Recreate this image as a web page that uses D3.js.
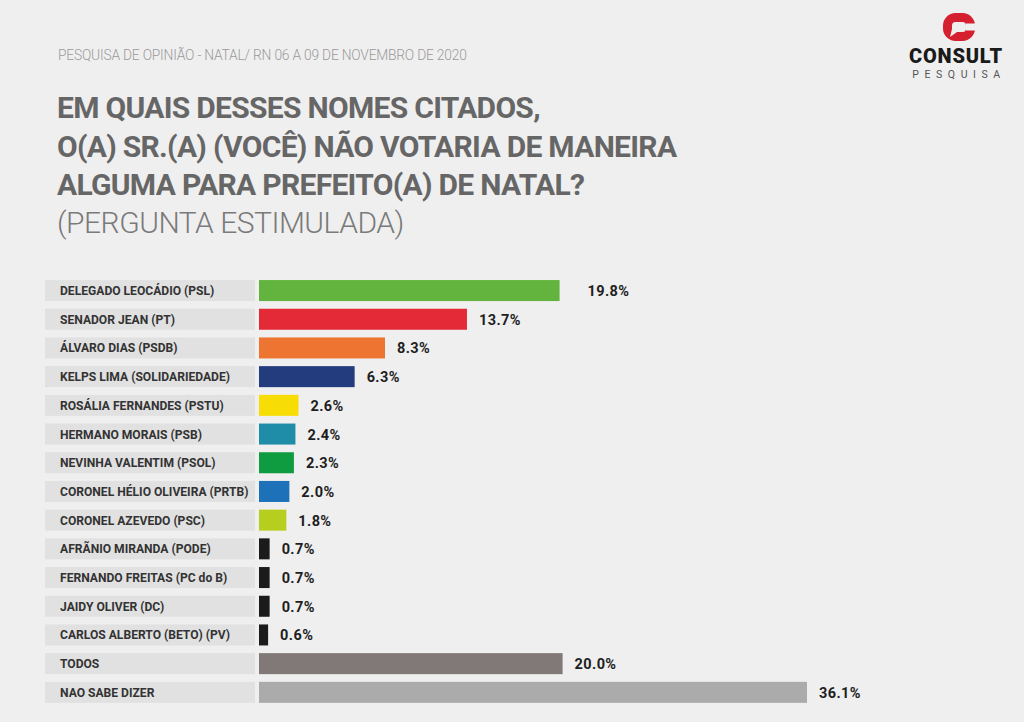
<html><head>
  <script src="https://d3js.org/d3.v7.min.js"></script>
  <style>
    body { margin: 0; background: #efefef; }
    text { font-family: Roboto, 'Noto Sans', sans-serif; }
  </style>
</head>
<body>
<script>
  // data
  const names = [
    "DELEGADO LEOCÁDIO (PSL)",
    "SENADOR JEAN (PT)",
    "ÁLVARO DIAS (PSDB)",
    "KELPS LIMA (SOLIDARIEDADE)",
    "ROSÁLIA FERNANDES (PSTU)",
    "HERMANO MORAIS (PSB)",
    "NEVINHA VALENTIM (PSOL)",
    "CORONEL HÉLIO OLIVEIRA (PRTB)",
    "CORONEL AZEVEDO (PSC)",
    "AFRÃNIO MIRANDA (PODE)",
    "FERNANDO FREITAS (PC do B)",
    "JAIDY OLIVER (DC)",
    "CARLOS ALBERTO (BETO) (PV)",
    "TODOS",
    "NAO SABE DIZER"
  ]
  const values = [19.8, 13.7, 8.3, 6.3, 2.6, 2.4, 2.3, 2.0, 1.8, 0.7, 0.7, 0.7, 0.6, 20.0, 36.1]
  const colors = ["#62b43f", "#e42a37", "#ee7531", "#233c7e", "#f7dc06", "#1f8ca8", "#0f9b3f",
                  "#1c71b8", "#b6cf1e", "#1b1b1b", "#1b1b1b", "#1b1b1b", "#1b1b1b", "#817878", "#ababab"]

  const header = "PESQUISA DE OPINIÃO - NATAL/ RN 06 A 09 DE NOVEMBRO DE 2020"
  const titleLines = ["EM QUAIS DESSES NOMES CITADOS,",
                      "O(A) SR.(A) (VOCÊ) NÃO VOTARIA DE MANEIRA",
                      "ALGUMA PARA PREFEITO(A) DE NATAL?"]
  const subtitle = "(PERGUNTA ESTIMULADA)"

  const data = names.map((n, i) => ({name: n, value: values[i], color: colors[i]}))

  const W = 1024, H = 722
  const bg = "#efefef"
  const svg = d3.select("body").append("svg").attr("width", W).attr("height", H)
  svg.append("rect").attr("width", W).attr("height", H).attr("fill", bg)

  // header + titles
  svg.append("text").attr("x", 58).attr("y", 60)
     .attr("font-size", 13.8).attr("font-weight", 300).attr("fill", "#9a9a9a")
     .attr("letter-spacing", -0.2)
     .text(header)

  svg.selectAll("text.title").data(titleLines).join("text").attr("class", "title")
     .attr("x", 57).attr("y", (d, i) => 118 + i * 38.5)
     .attr("font-size", 30).attr("font-weight", 700).attr("fill", "#666")
     .attr("letter-spacing", -0.7)
     .text(d => d)

  svg.append("text").attr("x", 57).attr("y", 233)
     .attr("font-size", 30).attr("font-weight", 300).attr("fill", "#7a7a7a")
     .attr("letter-spacing", -0.5)
     .text(subtitle)

  // logo: rounded C with a little speech-bubble notch
  const logo = svg.append("g")
  logo.append("rect").attr("x", 947.5).attr("y", 17.5).attr("width", 23).attr("height", 19).attr("rx", 8)
      .attr("fill", "none").attr("stroke", "#d4202f").attr("stroke-width", 9)
  logo.append("rect").attr("x", 966).attr("y", 23.5).attr("width", 12).attr("height", 7).attr("fill", bg)
  logo.append("path").attr("d", "M952,29 L950,37 L957,32 Z").attr("fill", bg)
  svg.append("text").attr("x", 956).attr("y", 63).attr("text-anchor", "middle")
     .attr("font-size", 20).attr("font-weight", 900).attr("fill", "#1a1a1a")
     .attr("letter-spacing", 0.8)
     .text("CONSULT")
  svg.append("text").attr("x", 959).attr("y", 78).attr("text-anchor", "middle")
     .attr("font-size", 10.5).attr("font-weight", 400).attr("fill", "#555")
     .attr("letter-spacing", 5.6)
     .text("PESQUISA")

  // scales
  const x = d3.scaleLinear().domain([0, 36.1]).range([259, 807])
  const y = d3.scaleBand().domain(names).range([276.2, 706.7]).paddingInner(0.268).paddingOuter(0.134)

  const rows = svg.append("g")

  rows.selectAll("rect.band").data(data).join("rect").attr("class", "band")
      .attr("x", 45).attr("y", d => y(d.name))
      .attr("width", 210).attr("height", y.bandwidth())
      .attr("fill", "#e1e1e1")

  rows.selectAll("text.label").data(data).join("text").attr("class", "label")
      .attr("x", 60).attr("y", d => y(d.name) + y.bandwidth() / 2 + 4.5)
      .attr("font-size", 12.1).attr("font-weight", 700).attr("fill", "#333")
      .text(d => d.name)

  rows.selectAll("rect.bar").data(data).join("rect").attr("class", "bar")
      .attr("x", x(0)).attr("y", d => y(d.name))
      .attr("width", d => Math.max(7, x(d.value) - x(0))).attr("height", y.bandwidth())
      .attr("fill", d => d.color)

  rows.selectAll("text.value").data(data).join("text").attr("class", "value")
      .attr("x", d => x(0) + Math.max(7, x(d.value) - x(0)) + (d.value > 19 && d.value < 19.9 ? 28 : 12))
      .attr("y", d => y(d.name) + y.bandwidth() / 2 + 5.5)
      .attr("font-size", 14.5).attr("font-weight", 700).attr("fill", "#1e1e1e")
      .attr("letter-spacing", 0.4)
      .text(d => d.value.toFixed(1) + "%")
</script>
</body>
</html>
